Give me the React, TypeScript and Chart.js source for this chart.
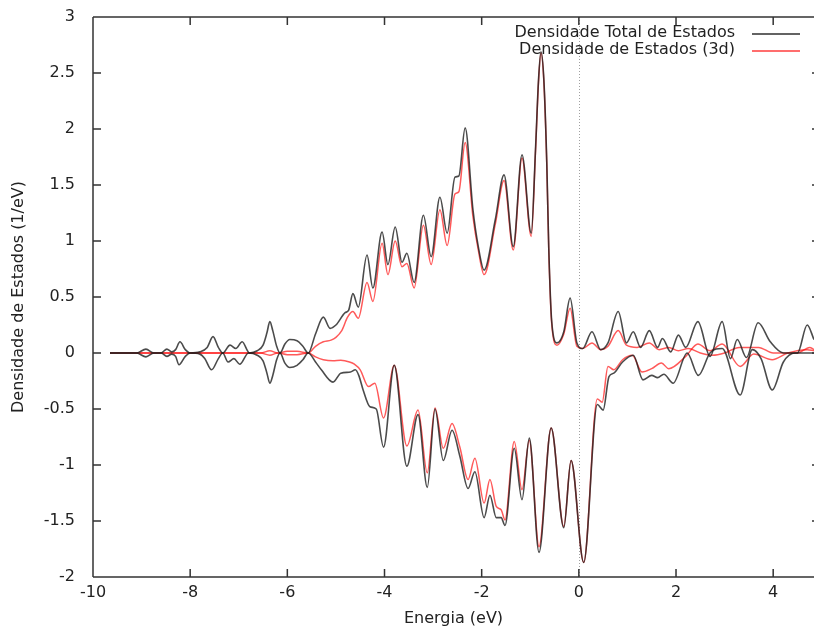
import React, { useEffect, useRef } from 'react';
import { Chart, registerables } from 'chart.js';

Chart.register(...registerables);

// [energy (eV), DOS (1/eV)]
const totalUp: [number, number][] = [
  [-9.65, 0], [-9.1, 0], [-8.91, 0.035], [-8.75, 0], [-8.6, 0], [-8.48, 0.035], [-8.38, 0.01], [-8.3, 0.03],
  [-8.21, 0.1], [-8.1, 0.03], [-8.0, 0], [-7.8, 0.01], [-7.65, 0.05], [-7.53, 0.146], [-7.42, 0.05], [-7.33, 0],
  [-7.18, 0.07], [-7.06, 0.04], [-6.93, 0.1], [-6.78, 0], [-6.62, 0.02], [-6.5, 0.07], [-6.42, 0.18], [-6.36, 0.28],
  [-6.3, 0.2], [-6.22, 0.06], [-6.15, 0], [-6.05, 0.08], [-5.95, 0.12], [-5.8, 0.11], [-5.68, 0.06], [-5.57, 0],
  [-5.42, 0.17], [-5.26, 0.32], [-5.12, 0.22], [-5.0, 0.25], [-4.81, 0.36], [-4.74, 0.38], [-4.65, 0.53], [-4.54, 0.41],
  [-4.36, 0.875], [-4.24, 0.58], [-4.05, 1.08], [-3.93, 0.79], [-3.78, 1.125], [-3.64, 0.81], [-3.54, 0.89], [-3.39, 0.63],
  [-3.2, 1.23], [-3.04, 0.86], [-2.86, 1.39], [-2.71, 1.07], [-2.55, 1.57], [-2.47, 1.58], [-2.34, 2.01], [-2.18, 1.28],
  [-2.07, 0.95], [-1.95, 0.74], [-1.72, 1.19], [-1.54, 1.59], [-1.35, 0.95], [-1.17, 1.77], [-0.98, 1.07], [-0.89, 1.84],
  [-0.83, 2.44], [-0.78, 2.69], [-0.72, 2.44], [-0.66, 1.7], [-0.62, 0.95], [-0.56, 0.29], [-0.45, 0.09], [-0.31, 0.19],
  [-0.18, 0.49], [-0.04, 0.09], [0.08, 0.04], [0.27, 0.19], [0.45, 0.03], [0.6, 0.09], [0.81, 0.37], [0.98, 0.09],
  [1.12, 0.19], [1.27, 0.05], [1.45, 0.2], [1.62, 0.05], [1.72, 0.13], [1.89, 0.01], [2.05, 0.16], [2.2, 0.05],
  [2.45, 0.28], [2.7, -0.03], [2.95, 0.28], [3.12, -0.05], [3.26, 0.12], [3.45, -0.04], [3.69, 0.27], [3.94, 0.1],
  [4.21, 0], [4.5, 0], [4.7, 0.25], [4.84, 0.12],
];

const d3Up: [number, number][] = [
  [-9.65, 0], [-6.55, 0], [-6.36, 0.02], [-6.2, 0], [-6.0, 0.015], [-5.8, 0.015], [-5.57, 0], [-5.42, 0.06],
  [-5.26, 0.1], [-5.1, 0.115], [-5.0, 0.14], [-4.88, 0.2], [-4.76, 0.32], [-4.65, 0.37], [-4.54, 0.31], [-4.36, 0.63],
  [-4.24, 0.46], [-4.05, 0.98], [-3.93, 0.7], [-3.78, 1.0], [-3.64, 0.77], [-3.54, 0.8], [-3.39, 0.58], [-3.2, 1.14],
  [-3.04, 0.79], [-2.86, 1.28], [-2.71, 0.96], [-2.55, 1.42], [-2.47, 1.44], [-2.34, 1.88], [-2.18, 1.22], [-2.07, 0.92],
  [-1.95, 0.7], [-1.72, 1.15], [-1.54, 1.54], [-1.35, 0.92], [-1.17, 1.74], [-0.98, 1.04], [-0.89, 1.82], [-0.83, 2.42],
  [-0.78, 2.68], [-0.72, 2.42], [-0.66, 1.68], [-0.62, 0.93], [-0.56, 0.27], [-0.45, 0.07], [-0.31, 0.17], [-0.18, 0.4],
  [-0.04, 0.06], [0.08, 0.04], [0.27, 0.09], [0.45, 0.03], [0.6, 0.06], [0.81, 0.2], [0.98, 0.07], [1.2, 0.05],
  [1.45, 0.09], [1.65, 0.03], [1.85, 0.05], [2.05, 0.02], [2.25, 0.04], [2.5, 0], [2.75, -0.02], [3.0, 0],
  [3.3, 0.05], [3.7, 0.05], [4.0, 0], [4.5, 0], [4.75, 0.05], [4.84, 0.03],
];

const totalDown: [number, number][] = [
  [-9.65, 0], [-9.1, 0], [-8.91, -0.035], [-8.75, 0], [-8.6, 0], [-8.48, -0.03], [-8.38, -0.01], [-8.3, -0.03],
  [-8.23, -0.105], [-8.1, -0.03], [-8.0, 0], [-7.8, -0.01], [-7.7, -0.05], [-7.56, -0.15], [-7.42, -0.05], [-7.33, 0],
  [-7.22, -0.08], [-7.1, -0.05], [-6.98, -0.1], [-6.8, 0], [-6.62, -0.02], [-6.5, -0.07], [-6.42, -0.18], [-6.36, -0.27],
  [-6.3, -0.2], [-6.22, -0.06], [-6.15, 0], [-6.05, -0.09], [-5.95, -0.13], [-5.8, -0.11], [-5.68, -0.06], [-5.57, 0],
  [-5.42, -0.08], [-5.3, -0.15], [-5.06, -0.26], [-4.9, -0.18], [-4.7, -0.17], [-4.6, -0.15], [-4.53, -0.2], [-4.44, -0.33],
  [-4.3, -0.48], [-4.17, -0.5], [-4.02, -0.84], [-3.8, -0.11], [-3.54, -1.01], [-3.31, -0.55], [-3.12, -1.2], [-2.96, -0.5],
  [-2.79, -0.96], [-2.61, -0.69], [-2.45, -0.92], [-2.28, -1.21], [-2.14, -1.06], [-1.95, -1.47], [-1.83, -1.27], [-1.7, -1.47],
  [-1.6, -1.47], [-1.52, -1.54], [-1.33, -0.85], [-1.17, -1.31], [-1.02, -0.76], [-0.82, -1.78], [-0.57, -0.67], [-0.31, -1.56],
  [-0.16, -0.96], [0.1, -1.87], [0.38, -0.46], [0.5, -0.51], [0.62, -0.21], [0.72, -0.18], [0.9, -0.08], [1.12, -0.02],
  [1.32, -0.24], [1.5, -0.2], [1.62, -0.22], [1.75, -0.19], [1.94, -0.27], [2.23, 0], [2.46, -0.2], [2.7, 0],
  [2.95, 0.04], [3.32, -0.375], [3.57, 0.03], [3.75, -0.05], [3.98, -0.33], [4.21, -0.08], [4.45, 0], [4.84, 0],
];

const d3Down: [number, number][] = [
  [-9.65, 0], [-6.55, 0], [-6.36, -0.02], [-6.2, 0], [-6.0, -0.015], [-5.8, -0.015], [-5.57, 0], [-5.42, -0.035],
  [-5.26, -0.06], [-5.06, -0.07], [-4.9, -0.065], [-4.72, -0.08], [-4.62, -0.1], [-4.5, -0.15], [-4.33, -0.3], [-4.2, -0.27],
  [-4.02, -0.58], [-3.8, -0.11], [-3.54, -0.83], [-3.31, -0.51], [-3.12, -1.07], [-2.96, -0.49], [-2.79, -0.85], [-2.61, -0.63],
  [-2.45, -0.84], [-2.28, -1.13], [-2.14, -0.94], [-1.95, -1.34], [-1.83, -1.13], [-1.7, -1.37], [-1.6, -1.4], [-1.52, -1.49],
  [-1.33, -0.79], [-1.17, -1.22], [-1.02, -0.78], [-0.82, -1.73], [-0.57, -0.67], [-0.31, -1.55], [-0.16, -0.96], [0.1, -1.87],
  [0.38, -0.41], [0.48, -0.44], [0.6, -0.12], [0.72, -0.15], [0.9, -0.06], [1.1, -0.02], [1.3, -0.17], [1.5, -0.14],
  [1.7, -0.09], [1.85, -0.14], [2.2, -0.03], [2.45, 0.08], [2.7, 0.02], [2.95, 0.08], [3.32, -0.12], [3.6, -0.01],
  [3.98, -0.06], [4.3, 0], [4.7, 0.03], [4.84, 0.02],
];

const legendLabels = ['Densidade Total de Estados', 'Densidade de Estados (3d)'];
const xTitle = 'Energia (eV)';
const yTitle = 'Densidade de Estados (1/eV)';

const FONT_FAMILY = "'DejaVu Sans', sans-serif";
const BLACK = 'rgba(30,30,30,0.8)';
const RED = 'rgba(255,0,0,0.65)';
const LEG_BLACK = 'rgba(60,60,60,0.8)';
const LEG_RED = 'rgba(255,60,60,0.75)';

const toPts = (arr: [number, number][]) => arr.map(([x, y]) => ({ x, y }));

const gnuplotPlugin = {
  id: 'gnuplotFrame',
  beforeDatasetsDraw(chart: any) {
    const { ctx, chartArea: a, scales } = chart;
    const x0 = Math.round(scales.x.getPixelForValue(0)) + 0.5;
    ctx.save();
    ctx.strokeStyle = '#a0a0a0';
    ctx.lineWidth = 1;
    ctx.setLineDash([1, 2]);
    ctx.beginPath();
    ctx.moveTo(x0, a.top);
    ctx.lineTo(x0, a.bottom);
    ctx.stroke();
    ctx.restore();
  },
  afterDraw(chart: any) {
    const { ctx, chartArea: a, scales } = chart;
    const xs = scales.x;
    const ys = scales.y;
    ctx.save();
    ctx.strokeStyle = '#333333';
    ctx.lineWidth = 1.5;
    ctx.beginPath();
    ctx.moveTo(a.left, a.top);
    ctx.lineTo(a.left, a.bottom);
    ctx.moveTo(a.left, a.top);
    ctx.lineTo(a.right + 2, a.top);
    ctx.moveTo(a.left, a.bottom);
    ctx.lineTo(a.right + 2, a.bottom);
    ctx.stroke();
    const tl = 8;
    ctx.beginPath();
    xs.ticks.forEach((t: any) => {
      const px = xs.getPixelForValue(t.value);
      if (px <= a.left + 1) return;
      ctx.moveTo(px, a.bottom);
      ctx.lineTo(px, a.bottom - tl);
      ctx.moveTo(px, a.top);
      ctx.lineTo(px, a.top + tl);
    });
    ys.ticks.forEach((t: any) => {
      const py = ys.getPixelForValue(t.value);
      if (py <= a.top + 1 || py >= a.bottom - 1) return;
      ctx.moveTo(a.left, py);
      ctx.lineTo(a.left + tl, py);
      ctx.moveTo(a.right - 2, py);
      ctx.lineTo(a.right, py);
    });
    ctx.stroke();

    // legend
    ctx.font = `16px ${FONT_FAMILY}`;
    ctx.textAlign = 'right';
    ctx.textBaseline = 'middle';
    ctx.fillStyle = '#222222';
    const colors = [LEG_BLACK, LEG_RED];
    legendLabels.forEach((label, i) => {
      const cy = 33 + i * 17;
      ctx.fillText(label, 735, cy);
      ctx.strokeStyle = colors[i];
      ctx.lineWidth = 1.8;
      ctx.beginPath();
      ctx.moveTo(752, cy + 1);
      ctx.lineTo(800, cy + 1);
      ctx.stroke();
    });
    ctx.restore();
  },
};

export default function App() {
  const ref = useRef<HTMLCanvasElement | null>(null);

  useEffect(() => {
    if (!ref.current) return;
    const line = (data: [number, number][], color: string, w: number) => ({
      data: toPts(data),
      borderColor: color,
      backgroundColor: color,
      borderWidth: w,
      pointRadius: 0,
      fill: false,
      cubicInterpolationMode: 'monotone' as const,
    });
    const chart = new Chart(ref.current, {
      type: 'line',
      data: {
        datasets: [
          line(totalUp, BLACK, 1.6),
          line(totalDown, BLACK, 1.6),
          line(d3Up, RED, 1.5),
          line(d3Down, RED, 1.5),
        ],
      },
      options: {
        animation: false,
        responsive: false,
        maintainAspectRatio: false,
        devicePixelRatio: 1,
        layout: { padding: { left: 0, top: 17, right: 0, bottom: 0 } },
        plugins: { legend: { display: false }, tooltip: { enabled: false } },
        scales: {
          x: {
            type: 'linear',
            min: -10,
            max: 4.84,
            grid: { display: false, drawTicks: false },
            border: { display: false },
            ticks: {
              stepSize: 2,
              includeBounds: false,
              padding: 6,
              color: '#222222',
              font: { family: FONT_FAMILY, size: 16 },
              maxRotation: 0,
              autoSkip: false,
              callback: (v: any) => String(v),
            },
            title: {
              display: true,
              text: xTitle,
              color: '#222222',
              font: { family: FONT_FAMILY, size: 16 },
              padding: { top: 0, bottom: 5 },
            },
            afterFit: (s: any) => {
              s.height = 56;
              s.paddingLeft = 0;
              s.paddingRight = 0;
            },
          },
          y: {
            type: 'linear',
            min: -2,
            max: 3,
            grid: { display: false, drawTicks: false },
            border: { display: false },
            ticks: {
              stepSize: 0.5,
              padding: 18,
              color: '#222222',
              font: { family: FONT_FAMILY, size: 16 },
              callback: (v: any) => String(Math.round(Number(v) * 10) / 10),
            },
            title: {
              display: true,
              text: yTitle,
              color: '#222222',
              font: { family: FONT_FAMILY, size: 16 },
              padding: { top: 9, bottom: 0 },
            },
            afterFit: (s: any) => {
              s.width = 93;
              s.paddingTop = 0;
              s.paddingBottom = 0;
            },
          },
        },
      },
      plugins: [gnuplotPlugin],
    });
    return () => chart.destroy();
  }, []);

  return (
    <div style={{ position: 'absolute', left: 0, top: 0, width: 814, height: 633, background: '#ffffff' }}>
      <canvas ref={ref} width={814} height={633} style={{ width: 814, height: 633, display: 'block' }} />
    </div>
  );
}
